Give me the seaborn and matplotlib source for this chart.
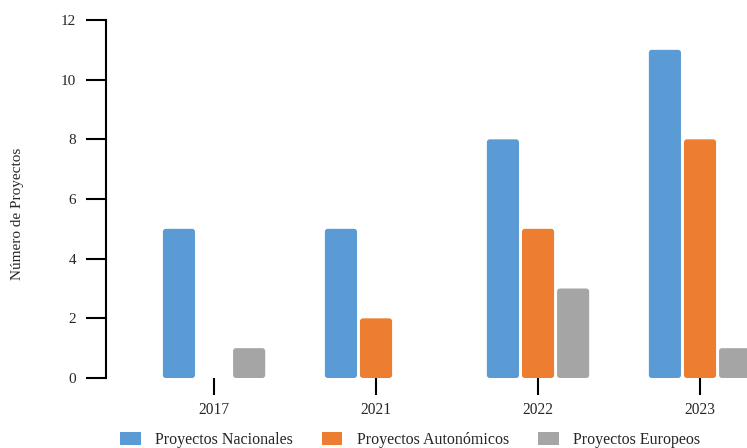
import matplotlib
matplotlib.use("Agg")
import matplotlib.pyplot as plt
import seaborn as sns
import pandas as pd
from matplotlib.patches import FancyBboxPatch, Patch

years = ["2017", "2021", "2022", "2023"]
series = ["Proyectos Nacionales", "Proyectos Autonómicos", "Proyectos Europeos"]
nacionales = [5, 5, 8, 11]
autonomicos = [0, 2, 5, 8]
europeos = [1, 0, 3, 1]
colors = ["#5B9BD5", "#ED7D31", "#A5A5A5"]
y_ticks = [0, 2, 4, 6, 8, 10, 12]

rows = []
for s, vals in zip(series, [nacionales, autonomicos, europeos]):
    for y, v in zip(years, vals):
        rows.append({"Año": y, "Serie": s, "Valor": v})
df = pd.DataFrame(rows)

sns.set_style("white")
plt.rcParams["font.family"] = ["Liberation Serif", "DejaVu Serif"]

fig = plt.figure(figsize=(7.47, 4.48), dpi=100)
ax = fig.add_axes([106 / 747, 1 - 378 / 448, 1 - 106 / 747, (378 - 20) / 448])

sns.barplot(data=df, x="Año", y="Valor", hue="Serie", hue_order=series,
            order=years, palette=colors, width=0.65, gap=0.085,
            saturation=1, ax=ax, legend=False)

# round the top corners of bars
for p in list(ax.patches):
    x, y0 = p.get_x(), p.get_y()
    w, h = p.get_width(), p.get_height()
    fc = p.get_facecolor()
    p.remove()
    if h <= 0:
        continue
    fb = FancyBboxPatch((x, y0), w, h, boxstyle="round,pad=0,rounding_size=0.018",
                        mutation_aspect=5.4, facecolor=fc, edgecolor="none",
                        clip_on=True)
    ax.add_patch(fb)

ax.set_xlim(-0.667, 3.29)
ax.set_ylim(0, 12)
ax.set_yticks(y_ticks)
ax.set_xlabel("")
ax.set_ylabel("Número de Proyectos", fontsize=11)
ax.yaxis.set_label_coords(-0.128, 0.458)

for side in ["top", "right", "bottom"]:
    ax.spines[side].set_visible(False)
ax.spines["left"].set_color("black")
ax.spines["left"].set_linewidth(1.5)

ax.tick_params(axis="y", direction="out", length=14.4, width=1.5, color="black",
               labelsize=11, pad=7, left=True)
ax.tick_params(axis="x", direction="out", length=12.2, width=1.5, color="black",
               labelsize=11.2, pad=5, bottom=True)

handles = [Patch(facecolor=c, edgecolor="none") for c in colors]
fig.legend(handles, series, loc="center", bbox_to_anchor=(410 / 747, 1 - 440 / 448),
           ncol=3, frameon=False, fontsize=11.5, handlelength=1.3, handleheight=0.9,
           columnspacing=1.8, handletextpad=0.9)

fig.savefig("out.png", dpi=100)
